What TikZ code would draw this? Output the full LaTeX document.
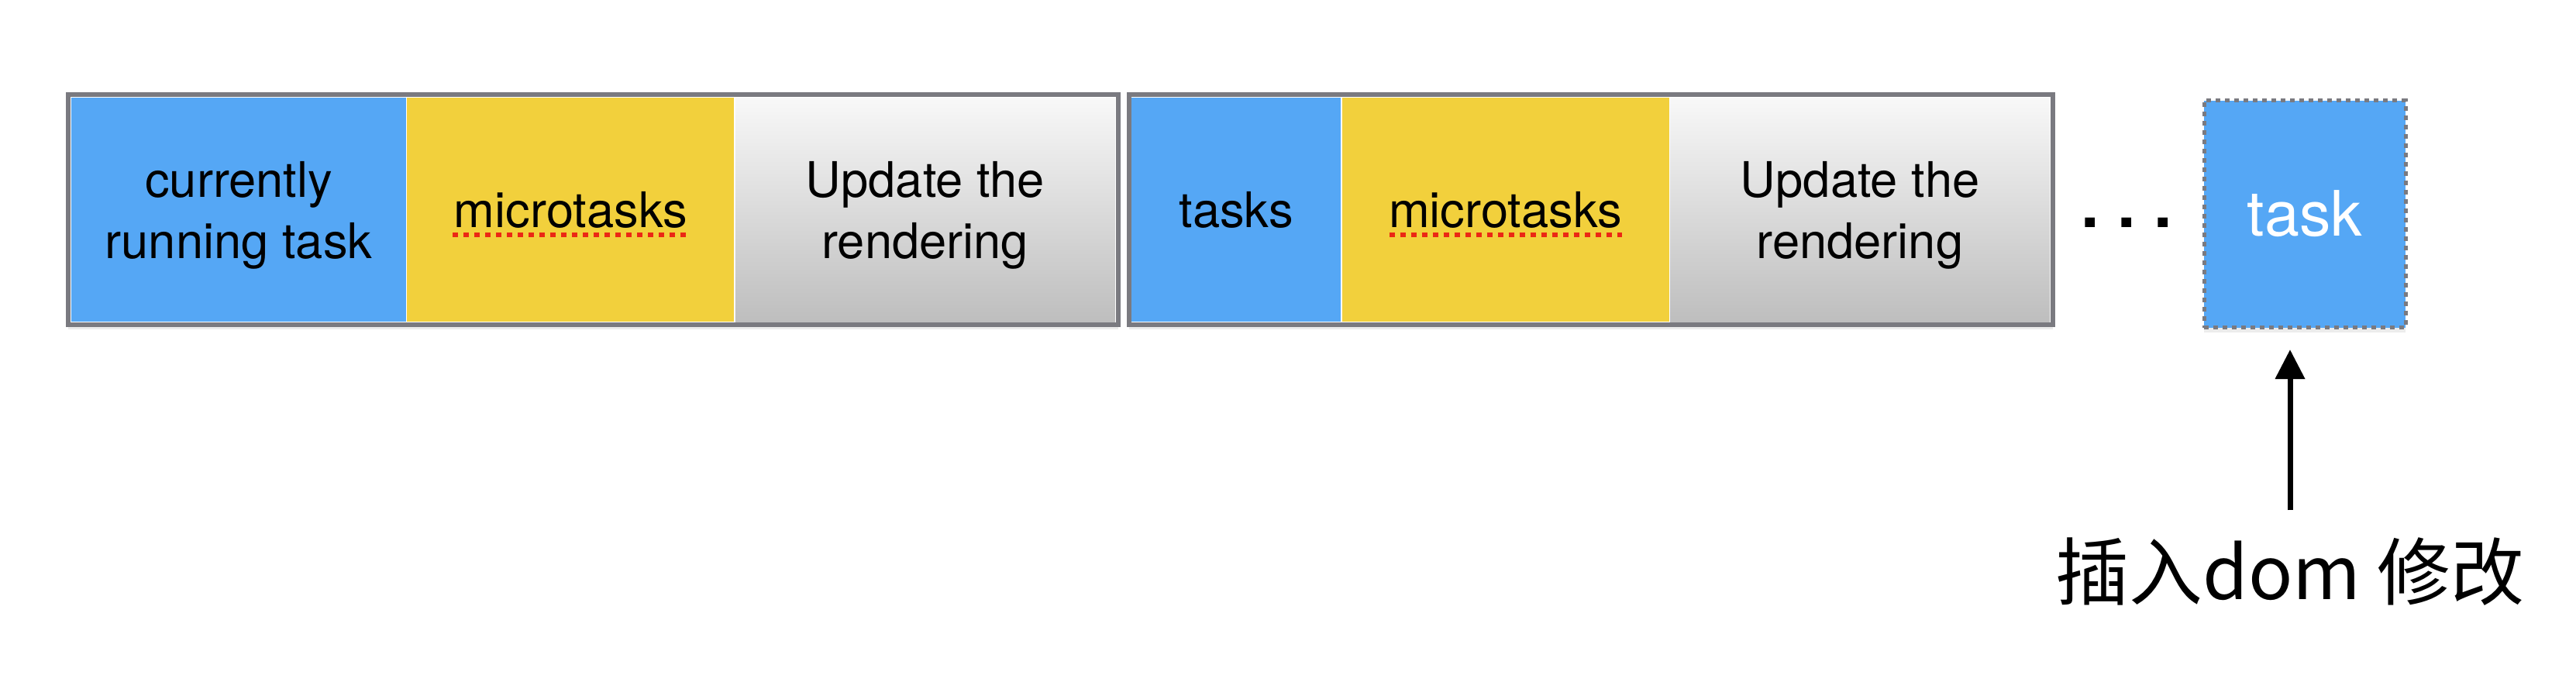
\documentclass[tikz,border=0pt]{standalone}
\usepackage{fontspec}
\setmainfont{TeX Gyre Heros}
\newfontfamily\cjkfont{Noto Sans CJK SC}
\usetikzlibrary{positioning,fit,shadows,backgrounds,arrows.meta}

\definecolor{taskblue}{RGB}{85,167,245}
\definecolor{microyellow}{RGB}{242,208,60}
\definecolor{framegray}{RGB}{122,122,128}
\definecolor{renderhigh}{RGB}{248,248,248}
\definecolor{renderlow}{RGB}{190,190,190}
\definecolor{spellred}{RGB}{235,40,20}

\tikzset{
  block/.style={minimum height=2.89cm, inner sep=0pt, align=center, text depth=0pt,
    font=\fontsize{18}{22.5}\selectfont},
  taskblock/.style={block, fill=taskblue},
  microblock/.style={block, fill=microyellow, minimum width=4.22cm},
  renderblock/.style={block, top color=renderhigh, bottom color=renderlow,
    minimum width=4.90cm},
  loopframe/.style={draw=framegray, fill=white, line width=0.06cm, inner sep=0.03cm,
    drop shadow={opacity=0.15, shadow xshift=0cm, shadow yshift=-0.06cm}},
  newtask/.style={fill=taskblue, draw=framegray, line width=0.05cm,
    dash pattern=on 0.06cm off 0.06cm, minimum width=2.60cm, minimum height=2.93cm,
    text=white, font=\fontsize{23}{23}\selectfont,
    drop shadow={opacity=0.15, shadow xshift=0cm, shadow yshift=-0.06cm}},
  spell/.style={draw=spellred, line width=0.06cm, dash pattern=on 0.07cm off 0.07cm},
}

\begin{document}
\begin{tikzpicture}[>={Triangle[width=0.37cm,length=0.38cm]}]
\useasboundingbox (0,0) rectangle (33.24,8.88);
% first loop
\node[taskblock, minimum width=4.32cm] (t1) at (3.08,6.175) {currently\\running task};
\node[microblock, right=0pt of t1] (m1) {microtasks};
\node[renderblock, right=0pt of m1] (r1) {Update the\\rendering};
% second loop
\node[taskblock, minimum width=2.70cm, right=0.20cm of r1] (t2) {tasks};
\node[microblock, right=0pt of t2] (m2) {microtasks};
\node[renderblock, right=0pt of m2] (r2) {Update the\\rendering};
\draw[spell] ([xshift=-1.52cm,yshift=-0.32cm]m1.center) -- ([xshift=1.52cm,yshift=-0.32cm]m1.center);
\draw[spell] ([xshift=-1.50cm,yshift=-0.32cm]m2.center) -- ([xshift=1.50cm,yshift=-0.32cm]m2.center);
\begin{scope}[on background layer]
  \node[loopframe, fit=(t1)(r1)] (loop1) {};
  \node[loopframe, fit=(t2)(r2)] (loop2) {};
\end{scope}
% the new task
\node[font=\fontsize{24}{24}\selectfont\bfseries, anchor=base] (dots) at (27.44,5.95) {.\ .\ .};
\node[newtask] (task) at (29.74,6.12) {task};
\node[font=\cjkfont\fontsize{27}{27}\selectfont, anchor=base, inner sep=0pt] (insert) at (29.55,1.15) {插入dom 修改};
\draw[->, line width=0.07cm, shorten <=0.34cm, shorten >=0.26cm] (insert.north) -- (insert.north |- task.south);
\end{tikzpicture}
\end{document}
